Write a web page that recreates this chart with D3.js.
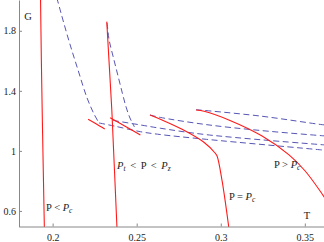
<!DOCTYPE html>
<html>
<head>
<meta charset="utf-8">
<script src="https://cdn.jsdelivr.net/npm/d3@7"></script>
<style>
  body { margin: 0; background: #fff; }
  svg { display: block; }
  svg text { font-family: "Liberation Serif", "DejaVu Serif", serif; }
</style>
</head>
<body>
<svg></svg>
<script>
// G against T, four pressures; red = stable branch, blue dashed = unstable
var xTicks = [0.2, 0.25, 0.3, 0.35];
var yTicks = [0.6, 1, 1.4, 1.8];

// P < Pc
var lowSmall = [[0.1928, 2.019], [0.1933, 1.606], [0.1939, 1.199], [0.1951, 0.48]];
var lowUpper = [[0.2025, 2.019], [0.2092, 1.752], [0.2151, 1.539], [0.2205, 1.352], [0.2246, 1.246], [0.2276, 1.186]];
var lowLarge = [[0.2211, 1.211], [0.2258, 1.181], [0.2310, 1.146]];
var lowFlat = [[0.2276, 1.186], [0.2373, 1.164], [0.2521, 1.128], [0.2640, 1.109], [0.2914, 1.077], [0.3604, 1.006], [0.363, 1.003]];

// Pt < P < Pz
var midSmall = [[0.2322, 1.861], [0.2335, 1.606], [0.2352, 1.272], [0.2355, 1.199], [0.2383, 0.48]];
var midUpper = [[0.2324, 1.852], [0.2336, 1.739], [0.2362, 1.619], [0.2389, 1.499], [0.2416, 1.379], [0.2437, 1.292], [0.2460, 1.219], [0.2487, 1.159]];
var midLarge = [[0.2342, 1.221], [0.2431, 1.164], [0.2522, 1.106]];
var midFlat = [[0.2359, 1.203], [0.2521, 1.173], [0.2640, 1.151], [0.2914, 1.108], [0.3604, 1.041], [0.363, 1.039]];

// P = Pc
var critLarge = [[0.2579, 1.239], [0.2651, 1.206], [0.2770, 1.144], [0.2898, 1.059], [0.2966, 0.986], [0.2978, 0.966], [0.3008, 0.800], [0.3049, 0.48]];
var critFlat = [[0.2579, 1.239], [0.2640, 1.223], [0.2914, 1.175], [0.3235, 1.136], [0.3604, 1.101], [0.363, 1.099]];

// P > Pc
var highLarge = [[0.2853, 1.272], [0.2901, 1.264], [0.3055, 1.203], [0.3246, 1.099], [0.3406, 0.973], [0.3502, 0.866], [0.3603, 0.713], [0.3638, 0.653]];
var highFlat = [[0.2853, 1.2745], [0.3232, 1.2325], [0.3604, 1.1745], [0.363, 1.172]];

var labels = [
    { t: 0.1961, g: 0.600, parts: [["P", ""], [" < ", ""], ["P", "i"], ["c", "s"]] },
    { t: 0.2383, g: 0.876, parts: [["P", "i"], ["t", "s"], [" < P < ", ""], ["P", "i"], ["z", "s"]] },
    { t: 0.3049, g: 0.676, parts: [["P = ", ""], ["P", "i"], ["c", "s"]] },
    { t: 0.3317, g: 0.883, parts: [["P > ", ""], ["P", "i"], ["c", "s"]] }
];

var svgWidth = 324, svgHeight = 242;

var svg = d3.select("svg")
    .attr("width", svgWidth)
    .attr("height", svgHeight);

var x = d3.scaleLinear().domain([0.18, 0.362]).range([19, 325]);
var y = d3.scaleLinear().domain([0.495, 2.005]).range([226.7, 0]);

svg.append("clipPath").attr("id", "plot")
  .append("rect")
    .attr("x", 19.5).attr("y", 0)
    .attr("width", svgWidth - 19.5).attr("height", 227);

var line = d3.line()
    .x(function(d) { return x(d[0]) })
    .y(function(d) { return y(d[1]) })
    .curve(d3.curveCatmullRom.alpha(0.5));

var plot = svg.append("g").attr("clip-path", "url(#plot)");

[lowUpper, lowFlat, midUpper, midFlat, critFlat, highFlat].forEach(function(s) {
    plot.append("path")
        .datum(s)
        .attr("fill", "none")
        .attr("stroke", "#5656b4")
        .attr("stroke-width", 1)
        .attr("stroke-dasharray", "6,3.5")
        .attr("d", line);
});

[lowSmall, lowLarge, midSmall, midLarge, critLarge, highLarge].forEach(function(s) {
    plot.append("path")
        .datum(s)
        .attr("fill", "none")
        .attr("stroke", "#ff1a1a")
        .attr("stroke-width", 1.1)
        .attr("d", line);
});

// axes, ticks pointing inward
var xAxis = svg.append("g")
    .attr("transform", "translate(0,226.5)")
    .call(d3.axisBottom(x).tickValues(xTicks).tickSizeInner(-3).tickSizeOuter(0).tickPadding(7)
        .tickFormat(function(d) { return String(d) }));

var yAxis = svg.append("g")
    .attr("transform", "translate(" + x(0.18) + ",0)")
    .call(d3.axisLeft(y).tickValues(yTicks).tickSizeInner(-3).tickSizeOuter(0).tickPadding(3)
        .tickFormat(function(d) { return String(d) }));

[xAxis, yAxis].forEach(function(a) {
    a.attr("font-family", "Liberation Serif").attr("font-size", 10);
    a.selectAll("path, line").attr("stroke", "#888");
    a.selectAll("text").attr("fill", "#222");
});

svg.append("text")
    .attr("x", x(0.18537)).attr("y", y(1.872))
    .attr("text-anchor", "middle")
    .attr("font-size", 10.5).attr("fill", "#222")
    .text("G");

svg.append("text")
    .attr("x", x(0.35134)).attr("y", y(0.546))
    .attr("text-anchor", "middle")
    .attr("font-size", 10.5).attr("fill", "#222")
    .text("T");

labels.forEach(function(l) {
    var t = svg.append("text")
        .attr("x", x(l.t)).attr("y", y(l.g))
        .attr("font-size", 10.5).attr("fill", "#222")
        .attr("xml:space", "preserve");
    l.parts.forEach(function(p, i) {
        var s = t.append("tspan").text(p[0]);
        if (p[1] == "i") s.attr("font-style", "italic");
        if (p[1] == "s") s.attr("font-style", "italic").attr("font-size", 7.5).attr("dy", 2);
        if (p[1] == "" && i > 0 && l.parts[i - 1][1] == "s") s.attr("dy", -2);
        if (p[0] == " < P < ") s.attr("word-spacing", 2);
    });
});
</script>
</body>
</html>
